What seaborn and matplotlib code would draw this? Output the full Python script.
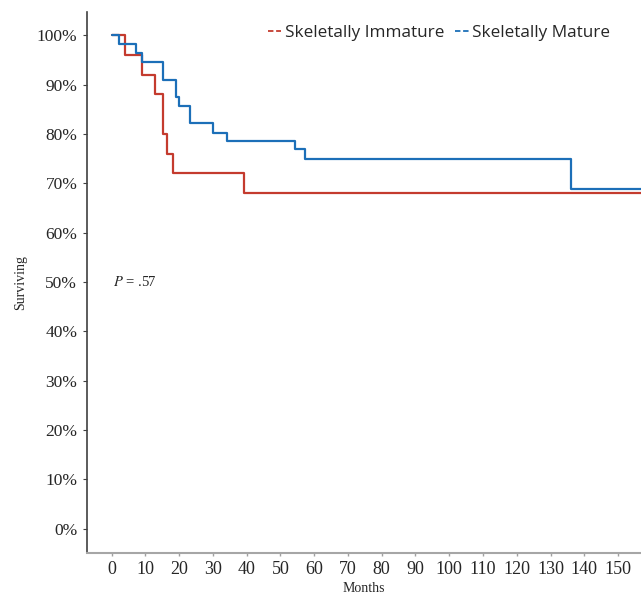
import pandas as pd
import matplotlib.pyplot as plt
import seaborn as sns
from matplotlib.lines import Line2D

# ---------------------------
# DATA
# ---------------------------
immature_months = [0, 4.0, 9.1, 12.9, 15.2, 16.3, 18.2, 39.1, 157]
immature_surv = [100, 96.0, 92.0, 88.0, 80.0, 76.0, 72.0, 68.0, 68.0]

mature_months = [0, 2.1, 7.1, 9.1, 15.2, 19.2, 20.1, 23.1, 30.1, 34.3, 54.2, 57.2, 136.1, 157]
mature_surv = [100, 98.2, 96.4, 94.6, 90.9, 87.4, 85.6, 82.2, 80.2, 78.5, 76.9, 75.0, 68.8, 68.8]

groups = ["Skeletally Immature", "Skeletally Mature"]
group_colors = ["#c43b2e", "#1c6fb8"]

x_ticks = list(range(0, 151, 10))
y_ticks = list(range(0, 101, 10))
y_tick_labels = [f"{v}%" for v in y_ticks]

df = pd.concat([
    pd.DataFrame({"Months": immature_months, "Surviving": immature_surv, "Group": groups[0]}),
    pd.DataFrame({"Months": mature_months, "Surviving": mature_surv, "Group": groups[1]}),
], ignore_index=True)

# ---------------------------
# PLOT
# ---------------------------
sns.set_style("ticks")
plt.rcParams["font.family"] = ["Liberation Serif", "DejaVu Serif"]
plt.rcParams["mathtext.fontset"] = "stix"

fig = plt.figure(figsize=(6.41, 6.01), dpi=100)
ax = fig.add_axes([0.1357, 0.08, 0.8643, 0.9])

sns.lineplot(data=df, x="Months", y="Surviving", hue="Group",
             palette=dict(zip(groups, group_colors)), drawstyle="steps-post",
             estimator=None, sort=False, linewidth=1.6, legend=False, ax=ax)

ax.set_xlim(-7.3, 156.8)
ax.set_ylim(-4.9, 104.7)
ax.set_xticks(x_ticks)
ax.set_xticklabels([str(v) for v in x_ticks], fontsize=13)
ax.set_yticks(y_ticks)
ax.set_yticklabels(y_tick_labels, fontsize=12.5)
ax.tick_params(axis="y", length=3, width=0.8, color="#404040", pad=4)
ax.tick_params(axis="x", length=2, width=1, color="#a0a0a0", pad=4)

ax.set_xlabel("Months", fontsize=10, labelpad=3)
ax.set_ylabel("Surviving", fontsize=10, labelpad=7)

sns.despine(ax=ax)
ax.spines["left"].set_color("#404040")
ax.spines["left"].set_linewidth(1.2)
ax.spines["bottom"].set_color("#a6a6a6")
ax.spines["bottom"].set_linewidth(1.5)

ax.text(0.5, 50, "$P$ = .57", fontsize=10.5, va="center", ha="left")

handles = [Line2D([0], [0], color=c, lw=1.3, linestyle=(0, (3, 1.5))) for c in group_colors]
leg = ax.legend(handles, groups, loc="upper right", bbox_to_anchor=(0.957, 0.989), ncol=2,
                frameon=False, handlelength=0.8, handletextpad=0.2, columnspacing=0.65,
                borderaxespad=0.0, prop={"family": "Open Sans", "size": 12.3})

fig.savefig("out.png", dpi=100)
plt.close()
